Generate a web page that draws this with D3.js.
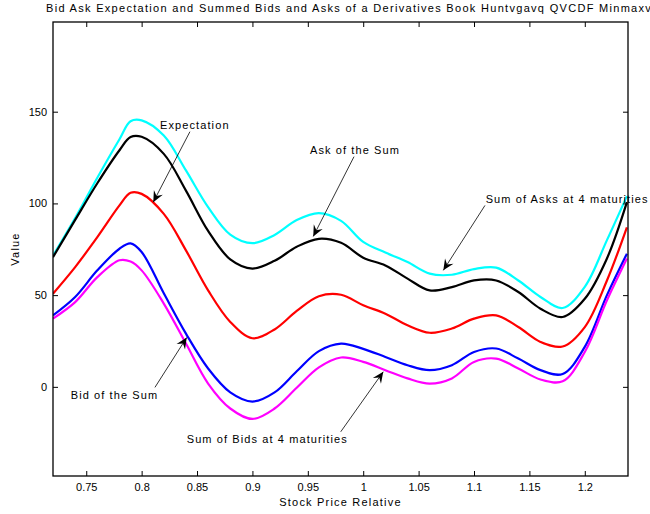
<!DOCTYPE html>
<html>
<head>
<meta charset="utf-8">
<script src="https://cdn.jsdelivr.net/npm/d3@7"></script>
<style>
 body { margin: 0; background: #fff; }
 text { font-family: "Liberation Sans", Arial, sans-serif; }
</style>
</head>
<body>
<div id="chart"></div>
<script>
// stock price relative (x) and the five curves
var stockPrice = [0.72, 0.74, 0.76, 0.78, 0.79, 0.80, 0.82, 0.84, 0.86, 0.88, 0.90, 0.92, 0.94, 0.96, 0.98, 1.00, 1.02, 1.04, 1.06, 1.08, 1.10, 1.12, 1.14, 1.16, 1.18, 1.20, 1.22, 1.238];
var sumOfAsks   = [71.5, 92, 114, 135, 144.8, 145.3, 137, 118, 98, 83, 78.3, 82.8, 90.9, 94.7, 90.5, 79, 73.2, 68, 61.7, 61.1, 64.2, 65, 58, 49, 43, 54.5, 80, 104];
var askOfSum    = [70.7, 91, 111, 129, 136.2, 136.3, 127, 107, 85, 69.5, 64.5, 68.7, 76.4, 80.7, 78.5, 70.4, 66.2, 59, 52.6, 54.4, 58, 58, 51.7, 42.6, 38.1, 48, 70, 100.7];
var expectation = [50.8, 65.3, 81.6, 98.9, 105.8, 105.2, 94.3, 74.4, 52.6, 35.4, 26.5, 31.3, 41.4, 49.4, 50.2, 44.5, 39.9, 33.6, 29.5, 31.8, 37.2, 39, 32.6, 24.5, 22, 32.6, 58, 87];
var bidOfSum    = [39, 49, 63.5, 75.3, 78.2, 73.5, 51, 29, 10, -3, -8, -3, 8.5, 19.5, 23.6, 20.7, 16.3, 11.8, 9.1, 11.8, 19, 20.9, 15.4, 9.1, 7, 21.8, 50, 72.6];
var sumOfBids   = [37.2, 46.2, 59.8, 69, 68.3, 63.5, 45.4, 23.6, 1.8, -11.8, -17.5, -11.8, -0.5, 10.6, 16, 13.6, 9.1, 4.6, 1.8, 4.6, 13.6, 15.4, 10, 4, 3, 19, 47.2, 70];

var xTicks = [0.75, 0.8, 0.85, 0.9, 0.95, 1, 1.05, 1.1, 1.15, 1.2];
var yTicks = [0, 50, 100, 150];

var series = [
 { name: "Sum of Asks at 4 maturities", values: sumOfAsks, color: "#00ffff" },
 { name: "Ask of the Sum", values: askOfSum, color: "#000000" },
 { name: "Expectation", values: expectation, color: "#ff0000" },
 { name: "Bid of the Sum", values: bidOfSum, color: "#0000ff" },
 { name: "Sum of Bids at 4 maturities", values: sumOfBids, color: "#ff00ff" }
];

// annotations: text position and arrow (tail -> head) in data units
var notes = [
 { label: "Expectation", tx: 0.8166, ty: 142.9, x0: 0.8436, y0: 139.1, x1: 0.8105, y1: 100.7 },
 { label: "Ask of the Sum", tx: 0.9520, ty: 129.3, x0: 0.9917, y0: 125.5, x1: 0.9549, y1: 82 },
 { label: "Sum of Asks at 4 maturities", tx: 1.1105, ty: 102.5, x0: 1.1099, y0: 98.9, x1: 1.0723, y1: 63.5 },
 { label: "Bid of the Sum", tx: 0.7360, ty: -4.5, x0: 0.8120, y0: -0.3, x1: 0.8407, y1: 26.9 },
 { label: "Sum of Bids at 4 maturities", tx: 0.8407, ty: -28.6, x0: 0.9797, y0: -24.5, x1: 1.0181, y1: 8.2 }
];

var width = 650,
 height = 514,
 padL = 53, padR = 628, padT = 22, padB = 476;

var svg = d3.select("#chart")
 .append("svg")
 .attr("width", width)
 .attr("height", height)
 .style("background", "#fff");

var x = d3.scaleLinear().domain([0.72, 1.239]).range([padL, padR]);
var y = d3.scaleLinear().domain([-48.6, 198.9]).range([padB, padT]);

svg.append("defs").append("clipPath").attr("id", "plot")
 .append("rect")
 .attr("x", padL).attr("y", padT)
 .attr("width", padR - padL).attr("height", padB - padT);

var line = d3.line()
 .x(function(d, i) { return x(stockPrice[i]); })
 .y(function(d) { return y(d); })
 .curve(d3.curveCatmullRom);

svg.append("g")
 .attr("clip-path", "url(#plot)")
 .selectAll("path")
 .data(series)
 .enter().append("path")
 .attr("d", function(d) { return line(d.values); })
 .attr("fill", "none")
 .attr("stroke", function(d) { return d.color; })
 .attr("stroke-width", 2.2);

// axes, ticks pointing inward on all four sides
var fmt = d3.format("");

svg.append("g")
 .attr("transform", "translate(0," + padB + ")")
 .call(d3.axisBottom(x).tickValues(xTicks).tickSize(-5).tickPadding(7).tickFormat(fmt));
svg.append("g")
 .attr("transform", "translate(0," + padT + ")")
 .call(d3.axisTop(x).tickValues(xTicks).tickSize(-5).tickFormat(""));
svg.append("g")
 .attr("transform", "translate(" + padL + ",0)")
 .call(d3.axisLeft(y).tickValues(yTicks).tickSize(-5).tickPadding(6).tickFormat(fmt));
svg.append("g")
 .attr("transform", "translate(" + padR + ",0)")
 .call(d3.axisRight(y).tickValues(yTicks).tickSize(-5).tickFormat(""));

svg.selectAll(".domain").remove();
svg.selectAll(".tick line").attr("stroke", "#000");
svg.selectAll(".tick text")
 .attr("fill", "#000")
 .style("font-family", "'Liberation Sans', Arial, sans-serif")
 .style("font-size", "11px");

svg.append("rect")
 .attr("x", padL).attr("y", padT)
 .attr("width", padR - padL).attr("height", padB - padT)
 .attr("fill", "none")
 .attr("stroke", "#000")
 .attr("stroke-width", 1.3);

// titles
svg.append("text")
 .attr("x", 46).attr("y", 12)
 .style("font-size", "11px")
 .style("letter-spacing", "1.3px")
 .text("Bid Ask Expectation and Summed Bids and Asks of a Derivatives Book Huntvgavq QVCDF Minmaxv");

svg.append("text")
 .attr("x", (padL + padR) / 2).attr("y", 506)
 .attr("text-anchor", "middle")
 .style("font-size", "11px")
 .style("letter-spacing", "1.2px")
 .text("Stock Price Relative");

svg.append("text")
 .attr("transform", "translate(19," + (padT + padB) / 2 + ") rotate(-90)")
 .attr("text-anchor", "middle")
 .style("font-size", "11px")
 .style("letter-spacing", "1.2px")
 .text("Value");

// annotations
var ann = svg.append("g").selectAll("g")
 .data(notes)
 .enter().append("g");

ann.append("text")
 .attr("x", function(d) { return x(d.tx); })
 .attr("y", function(d) { return y(d.ty); })
 .attr("dy", "0.35em")
 .style("font-size", "11px")
 .style("letter-spacing", "1.1px")
 .text(function(d) { return d.label; });

ann.append("line")
 .attr("x1", function(d) { return x(d.x0); })
 .attr("y1", function(d) { return y(d.y0); })
 .attr("x2", function(d) { return x(d.x1); })
 .attr("y2", function(d) { return y(d.y1); })
 .attr("stroke", "#000")
 .attr("stroke-width", 0.8);

ann.append("path")
 .attr("d", function(d) {
  var ax = x(d.x0), ay = y(d.y0), bx = x(d.x1), by = y(d.y1);
  var a = Math.atan2(by - ay, bx - ax);
  var len = 11, half = 5, notch = 7;
  var ux = Math.cos(a), uy = Math.sin(a);
  var p1 = [bx - ux * len - uy * half, by - uy * len + ux * half];
  var p2 = [bx - ux * notch, by - uy * notch];
  var p3 = [bx - ux * len + uy * half, by - uy * len - ux * half];
  return "M" + bx + "," + by + "L" + p1 + "L" + p2 + "L" + p3 + "Z";
 })
 .attr("fill", "#000");
</script>
</body>
</html>
